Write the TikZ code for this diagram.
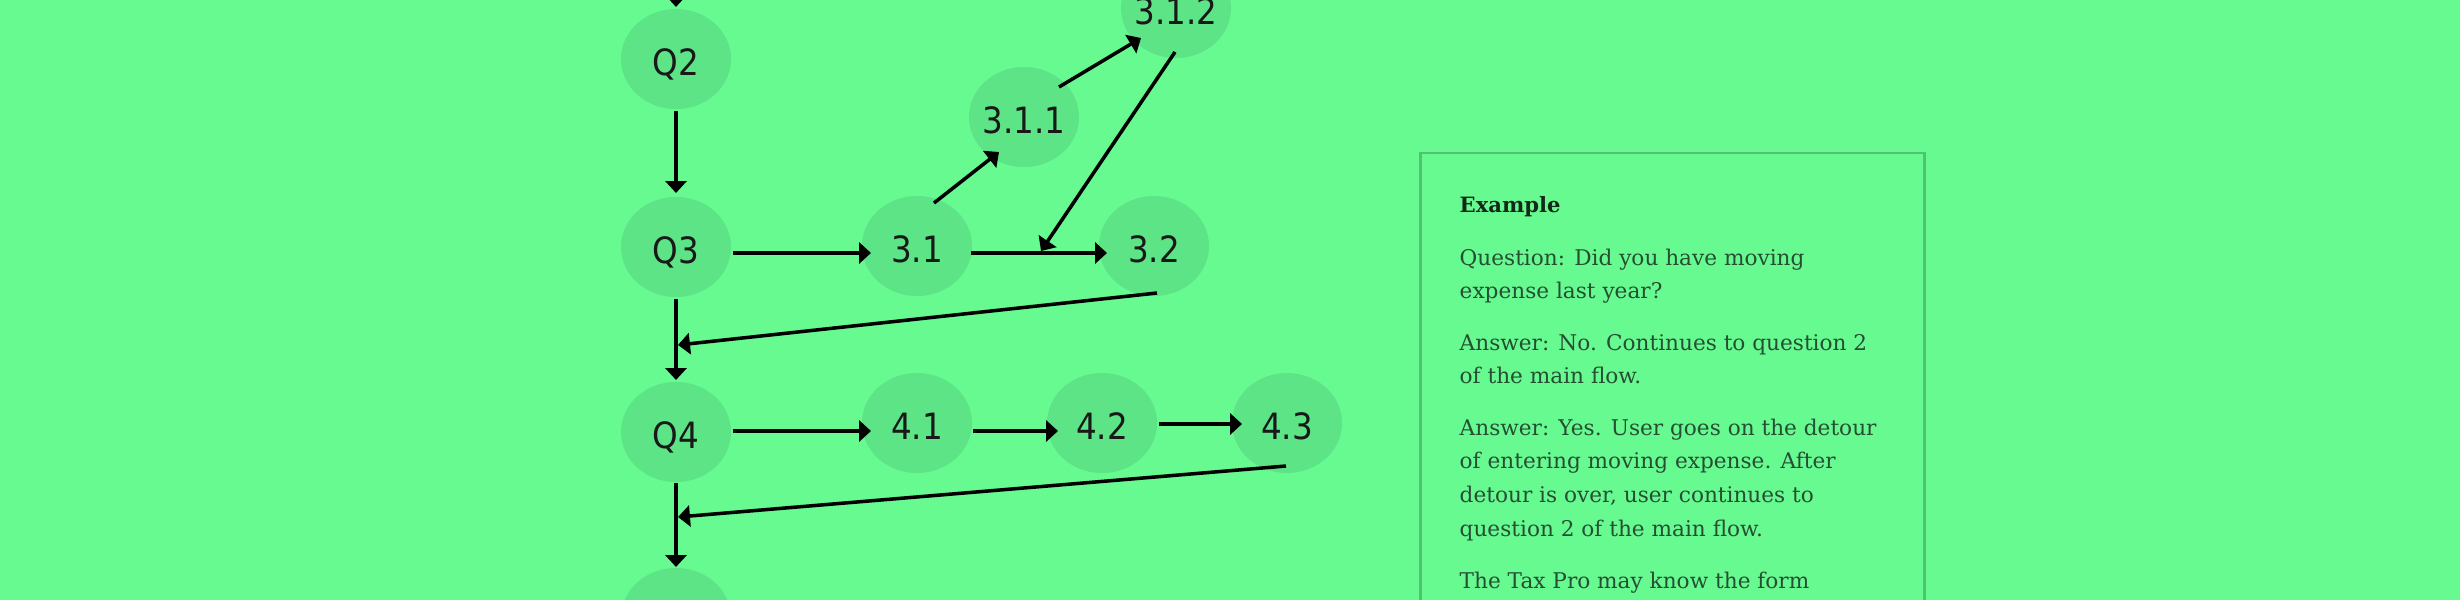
\documentclass[tikz,border=0pt]{standalone}
\usepackage{fontspec}
\usetikzlibrary{arrows.meta,shapes.geometric,calc}
\newfontfamily\nodefont{DejaVu Sans}[FakeStretch=0.9]
\newfontfamily\boxfont{DejaVu Serif}
\definecolor{bg}{RGB}{102,250,145}
\definecolor{ell}{RGB}{92,228,134}
\definecolor{boxline}{RGB}{78,196,112}
\definecolor{bodytext}{RGB}{38,78,50}
\definecolor{titletext}{RGB}{18,40,24}
\tikzset{
  qnode/.style={ellipse,fill=ell,minimum width=1.1cm,minimum height=1cm,inner xsep=-0.05cm,inner ysep=0pt,
    font=\nodefont\fontsize{10.3}{12}\selectfont,text=black!90,text height=9.6pt,text depth=0pt},
  arr/.style={line width=1pt,-{Triangle[length=3.4pt,width=6pt]}},
  txt/.style={anchor=base west,inner sep=0pt,font=\boxfont\fontsize{6.15}{9.6}\selectfont,text=bodytext},
  ttl/.style={anchor=base west,inner sep=0pt,font=\boxfont\bfseries\fontsize{6.0}{9.6}\selectfont,text=titletext}
}
\begin{document}
\begin{tikzpicture}[x=0.01cm,y=-0.01cm]
\useasboundingbox (0,0) rectangle (2460,600);
\fill[bg] (0,0) rectangle (2460,600);

% nodes
\node[qnode] (Q2) at (676,59) {Q2};
\node[qnode] (Q3) at (676,247) {Q3};
\node[qnode] (Q4) at (676,432) {Q4};
\node[qnode] (Q5) at (676,618) {};
\node[qnode] (n31) at (917,246) {3.1};
\node[qnode] (n311) at (1024,117) {3.1.1};
\node[qnode] (n312) at (1176,8) {3.1.2};
\node[qnode] (n32) at (1154,246) {3.2};
\node[qnode] (n41) at (917,423) {4.1};
\node[qnode] (n42) at (1102,423) {4.2};
\node[qnode] (n43) at (1287,423) {4.3};

\coordinate (q1) at (676,-60);
\coordinate (j3) at (1041,251);
\coordinate (j34) at (678,345);
\coordinate (j45) at (678,517);

% connectors
\draw[arr] (q1) -- ($(Q2)+(0,-52)$);
\draw[arr] ($(Q2)+(0,52)$) -- ($(Q3)+(0,-54)$);
\draw[arr] ($(Q3)+(57,6)$) -- ($(n31)+(-46,7)$);
\draw[arr] ($(n31)+(17,-43)$) -- ($(n311)+(-25,35)$);
\draw[arr] ($(n311)+(35,-30)$) -- ($(n312)+(-35,30)$);
\draw[arr] ($(n31)+(54,7)$) -- ($(n32)+(-47,7)$);
\draw[arr] ($(n312)+(-1,44)$) -- (j3);
\draw[arr] ($(Q3)+(0,52)$) -- ($(Q4)+(0,-52)$);
\draw[arr] ($(n32)+(3,47)$) -- (j34);
\draw[arr] ($(Q4)+(57,-1)$) -- ($(n41)+(-46,8)$);
\draw[arr] ($(n41)+(56,8)$) -- ($(n42)+(-44,8)$);
\draw[arr] ($(n42)+(57,1)$) -- ($(n43)+(-45,1)$);
\draw[arr] ($(n43)+(-1,43)$) -- (j45);
\draw[arr] ($(Q4)+(0,51)$) -- ($(Q5)+(0,-51)$);

% example box
\draw[boxline,line width=0.85pt] (1420,700) -- (1420,153) -- (1924,153) -- (1924,700);
\node[ttl] (t0) at (1459,212) {Example};
\node[txt] (t1) at (1459,265) {Question: Did you have moving};
\node[txt] (t2) at (1459,298) {expense last year?};
\node[txt] (t3) at (1459,350) {Answer: No. Continues to question 2};
\node[txt] (t4) at (1459,383) {of the main flow.};
\node[txt] (t5) at (1459,435) {Answer: Yes. User goes on the detour};
\node[txt] (t6) at (1459,468) {of entering moving expense. After};
\node[txt] (t7) at (1459,502) {detour is over, user continues to};
\node[txt] (t8) at (1459,536) {question 2 of the main flow.};
\node[txt] (t9) at (1459,588) {The Tax Pro may know the form};
\end{tikzpicture}
\end{document}
